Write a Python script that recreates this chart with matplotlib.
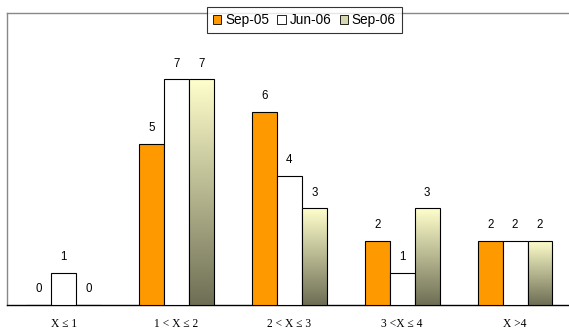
import numpy as np
import matplotlib
matplotlib.use("Agg")
import matplotlib.pyplot as plt
from matplotlib.patches import Patch
from matplotlib.colors import LinearSegmentedColormap

# donnees du graphique
categories = ["X \u2264 1", "1 < X \u2264 2", "2 < X \u2264 3", "3 <X \u2264 4", "X >4"]
series = ["Sep-05", "Jun-06", "Sep-06"]
sep05 = [0, 5, 6, 2, 2]
jun06 = [1, 7, 4, 1, 2]
sep06 = [0, 7, 3, 3, 2]

orange = "#FF9900"
degrade = LinearSegmentedColormap.from_list("olive", ["#6E6E55", "#FFFFCC"])

fig = plt.figure(figsize=(5.69, 3.28), dpi=100)
ax = fig.add_axes([0.0128, 0.0701, 0.9916, 0.889])

x = np.arange(len(categories))
w = 0.221
lw = 0.8

b1 = ax.bar(x - w, sep05, w, color=orange, edgecolor="black", linewidth=lw, zorder=3)
b2 = ax.bar(x, jun06, w, color="white", edgecolor="black", linewidth=lw, zorder=3)
b3 = ax.bar(x + w, sep06, w, color="none", edgecolor="black", linewidth=lw, zorder=4)

# degrade vertical pour Sep-06
grad = np.linspace(0, 1, 256).reshape(-1, 1)
for rect in b3:
    h = rect.get_height()
    if h <= 0:
        continue
    x0 = rect.get_x()
    im = ax.imshow(grad, cmap=degrade, aspect="auto", origin="lower",
                   extent=[x0, x0 + rect.get_width(), 0, h], zorder=3)
    im.set_clip_path(rect)

for bars, vals in [(b1, sep05), (b2, jun06), (b3, sep06)]:
    for rect, v in zip(bars, vals):
        ax.annotate(str(v), (rect.get_x() + rect.get_width() / 2, v),
                    xytext=(0, 7), textcoords="offset points",
                    ha="center", va="bottom", fontsize=8.3,
                    family="Liberation Sans", zorder=5)

ax.set_xlim(-0.5, 4.5)
ax.set_ylim(0, 9.05)
ax.set_xticks(x)
ax.set_xticklabels(categories, family="Liberation Serif", fontsize=8.3)
ax.tick_params(axis="x", length=0, pad=9)
ax.set_yticks([])

for s in ["left", "top", "right"]:
    ax.spines[s].set_color("#888888")
    ax.spines[s].set_linewidth(1)
ax.spines["bottom"].set_color("black")
ax.spines["bottom"].set_linewidth(1)

handles = [
    Patch(facecolor=orange, edgecolor="black", linewidth=0.6),
    Patch(facecolor="white", edgecolor="black", linewidth=0.6),
    Patch(facecolor="#D6D6B0", edgecolor="black", linewidth=0.6),
]
leg = fig.legend(handles, series, loc="center", bbox_to_anchor=(0.535, 0.939),
                 ncol=3, frameon=True, fancybox=False, shadow=False,
                 prop={"family": "Liberation Sans", "size": 9.8},
                 handlelength=0.6, handleheight=0.6, handletextpad=0.3,
                 columnspacing=0.6, borderpad=0.45, borderaxespad=0)
leg.get_frame().set_edgecolor("black")
leg.get_frame().set_linewidth(0.8)
leg.set_zorder(10)

fig.savefig("out.png", dpi=100)
